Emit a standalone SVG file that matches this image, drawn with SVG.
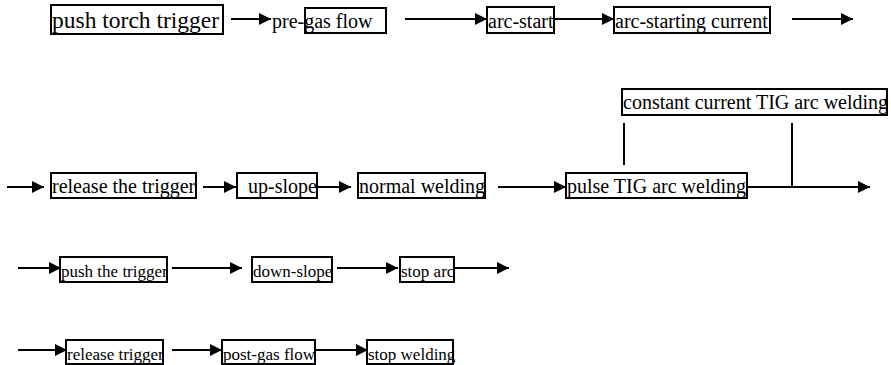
<svg xmlns="http://www.w3.org/2000/svg" width="891" height="365" viewBox="0 0 891 365">
<style>
.box{fill:none;stroke:#000;stroke-width:2}
.c{stroke:#000;stroke-width:2;fill:none}
.a{marker-end:url(#ah)}
</style>
<defs>
<marker id="ah" markerUnits="userSpaceOnUse" markerWidth="14" markerHeight="14" refX="12" refY="6" orient="auto">
<path d="M0,0 L12,6 L0,12 Z" fill="#000"/>
</marker>
</defs>
<rect width="891" height="365" fill="#fff"/>
<g id="connectors">
<line class="c a" x1="231" y1="19" x2="271" y2="19"/>
<line class="c a" x1="405" y1="19" x2="487" y2="19"/>
<line class="c a" x1="554" y1="19" x2="614" y2="19"/>
<line class="c a" x1="792" y1="19" x2="853" y2="19"/>
<line class="c a" x1="7" y1="187" x2="44" y2="187"/>
<line class="c a" x1="203" y1="187" x2="236" y2="187"/>
<line class="c a" x1="317" y1="187" x2="351" y2="187"/>
<line class="c a" x1="498" y1="187" x2="566" y2="187"/>
<line class="c a" x1="747" y1="187" x2="870" y2="187"/>
<line class="c" x1="792" y1="123" x2="792" y2="187"/>
<line class="c" x1="624" y1="123" x2="624" y2="165"/>
<line class="c a" x1="18" y1="268" x2="61" y2="268"/>
<line class="c a" x1="172" y1="268" x2="242" y2="268"/>
<line class="c a" x1="337" y1="268" x2="398" y2="268"/>
<line class="c a" x1="454" y1="268" x2="509" y2="268"/>
<line class="c a" x1="18" y1="350" x2="67" y2="350"/>
<line class="c a" x1="172" y1="350" x2="222" y2="350"/>
<line class="c a" x1="315" y1="350" x2="368" y2="350"/>
</g>
<g id="nodes" font-family="Liberation Serif, Times New Roman, serif" font-size="20" fill="#000">
<g id="n1"><rect class="box" x="51" y="5" width="172" height="29"/><text x="52" y="28" font-size="23.5">push torch trigger</text></g>
<g id="n2"><rect class="box" x="305" y="8" width="81" height="25"/><text x="272" y="28">pre-gas flow</text></g>
<g id="n3"><rect class="box" x="487" y="7" width="67" height="26"/><text x="488" y="28">arc-start</text></g>
<g id="n4"><rect class="box" x="614" y="7" width="156" height="26"/><text x="615" y="28">arc-starting current</text></g>
<g id="n5"><rect class="box" x="51" y="173" width="145" height="25"/><text x="52" y="193">release the trigger</text></g>
<g id="n6"><rect class="box" x="237" y="173" width="80" height="25"/><text x="248" y="193">up-slope</text></g>
<g id="n7"><rect class="box" x="358" y="173" width="127" height="25"/><text x="359" y="193">normal welding</text></g>
<g id="n8"><rect class="box" x="566" y="173" width="181" height="25"/><text x="567" y="193">pulse TIG arc welding</text></g>
<g id="n9"><rect class="box" x="622" y="89" width="265" height="26"/><text x="623" y="109">constant current TIG arc welding</text></g>
<g id="n10"><rect class="box" x="60" y="257" width="107" height="25"/><text x="61" y="277" font-size="17">push the trigger</text></g>
<g id="n11"><rect class="box" x="252" y="257" width="80" height="25"/><text x="253" y="277" font-size="17">down-slope</text></g>
<g id="n12"><rect class="box" x="400" y="257" width="54" height="25"/><text x="401" y="277" font-size="17">stop arc</text></g>
<g id="n13"><rect class="box" x="66" y="340" width="97" height="24"/><text x="67" y="360" font-size="17">release trigger</text></g>
<g id="n14"><rect class="box" x="222" y="340" width="93" height="24"/><text x="223" y="360" font-size="17">post-gas flow</text></g>
<g id="n15"><rect class="box" x="367" y="340" width="86" height="24"/><text x="368" y="360" font-size="17">stop welding</text></g>
</g>
</svg>
